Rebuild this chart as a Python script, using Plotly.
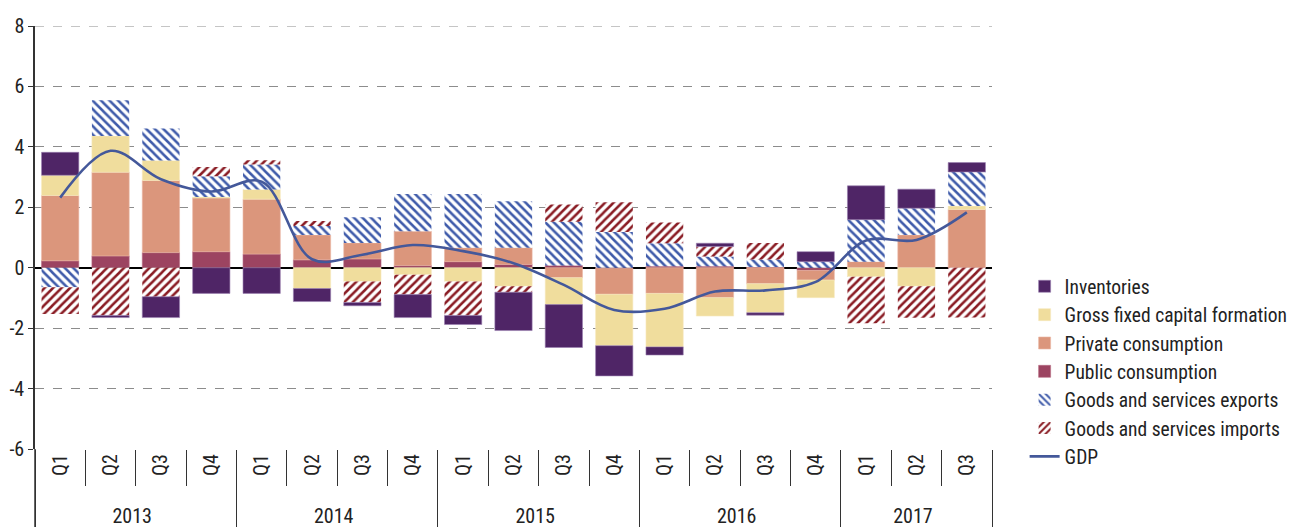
import plotly.graph_objects as go

years = ["2013"] * 4 + ["2014"] * 4 + ["2015"] * 4 + ["2016"] * 4 + ["2017"] * 3
quarters = ["Q1", "Q2", "Q3", "Q4"] * 4 + ["Q1", "Q2", "Q3"]

public_consumption = [0.23, 0.39, 0.50, 0.53, 0.45, 0.26, 0.29, 0.07, 0.20, 0.11, 0.07, -0.03,
                      0.05, 0.05, 0.02, -0.09, 0.0, 0.0, 0.0]
private_consumption = [2.16, 2.77, 2.39, 1.78, 1.82, 0.82, 0.53, 1.14, 0.46, 0.55, -0.33, -0.85,
                       -0.85, -0.99, -0.53, -0.32, 0.20, 1.08, 1.93]
gfcf = [0.67, 1.20, 0.66, 0.03, 0.32, -0.69, -0.46, -0.23, -0.46, -0.61, -0.89, -1.70,
        -1.77, -0.61, -0.96, -0.58, -0.30, -0.61, 0.11]
exports = [-0.65, 1.18, 1.06, 0.69, 0.83, 0.30, 0.85, 1.23, 1.78, 1.54, 1.45, 1.18,
           0.76, 0.32, 0.25, 0.20, 1.39, 0.89, 1.13]
imports = [-0.88, -1.58, -0.96, 0.30, 0.14, 0.17, -0.69, -0.66, -1.12, -0.20, 0.57, 0.99,
           0.69, 0.33, 0.55, 0.0, -1.54, -1.05, -1.65]
inventories = [0.76, -0.07, -0.69, -0.85, -0.85, -0.43, -0.11, -0.76, -0.30, -1.27, -1.42, -1.00,
               -0.27, 0.11, -0.08, 0.33, 1.12, 0.63, 0.31]
gdp = [2.32, 3.87, 2.93, 2.52, 2.85, 0.28, 0.43, 0.75, 0.55, 0.15, -0.57, -1.40,
       -1.36, -0.79, -0.75, -0.47, 0.90, 0.92, 1.83]

y_tickvals = [-6, -4, -2, 0, 2, 4, 6, 8]
y_ticktext = ["-6", "-4", "-2", "0", "2", "4", "6", "8"]

FONT = "Liberation Sans Narrow, Roboto Condensed, Arial Narrow, sans-serif"
# leading no-break spaces only pad the rotated quarter labels so the year row sits lower
quarter_labels = ["\u00a0\u00a0" + q for q in quarters]
x = [years, quarter_labels]

fig = go.Figure()

def solid_bar(name, vals, color, line_color, rank):
    fig.add_trace(go.Bar(
        x=x, y=vals, name=name, legendrank=rank,
        marker=dict(color=color, line=dict(color=line_color, width=0.6)),
    ))

def hatch_bar(name, vals, color, shape, rank):
    fig.add_trace(go.Bar(
        x=x, y=vals, name=name, legendrank=rank,
        marker=dict(color="white", line=dict(width=0),
                    pattern=dict(shape=shape, fgcolor=color, bgcolor="white",
                                 size=6, solidity=0.42, fillmode="replace")),
    ))

solid_bar("Public consumption", public_consumption, "#9C4461", "#B76A82", 4)
solid_bar("Private consumption", private_consumption, "#DB967C", "#EBB7A4", 3)
solid_bar("Gross fixed capital formation", gfcf, "#F0DD9D", "#F6E9BF", 2)
hatch_bar("Goods and services exports", exports, "#3F5BAA", "\\", 5)
hatch_bar("Goods and services imports", imports, "#8A1C24", "/", 6)
solid_bar("Inventories", inventories, "#4F2566", "#9A7FB0", 1)

fig.add_trace(go.Scatter(
    x=x, y=gdp, name="GDP", mode="lines", legendrank=7,
    line=dict(color="#44589A", width=2.6, shape="spline", smoothing=1.0),
))

# page body has an 8px default margin: compensate so the plot area sits at 35..993 x 26..449
fig.update_layout(
    width=1296, height=527,
    margin=dict(l=27, r=311, t=18, b=86),
    paper_bgcolor="white", plot_bgcolor="white",
    barmode="relative", bargap=0.26,
    font=dict(family=FONT, size=20, color="#222222"),
    showlegend=True,
    legend=dict(x=1.033, y=0.43, xanchor="left", yanchor="top",
                font=dict(family=FONT, size=19.5, color="#222222"),
                tracegroupgap=0, itemwidth=30, traceorder="normal",
                bgcolor="rgba(0,0,0,0)"),
)

fig.update_yaxes(
    range=[-6, 8], tickmode="array", tickvals=y_tickvals, ticktext=y_ticktext,
    automargin=False,
    showgrid=True, gridcolor="#8C8C8C", griddash="dash", gridwidth=1,
    zeroline=True, zerolinecolor="#000000", zerolinewidth=1.5,
    showline=True, linecolor="#333333", linewidth=1.5,
    ticks="outside", ticklen=5, tickcolor="#333333",
    tickfont=dict(family=FONT, size=20, color="#222222"),
)

fig.update_xaxes(
    type="multicategory", showgrid=False, showline=False, automargin=False,
    ticks="outside", tickson="boundaries", ticklen=36, tickcolor="#333333", tickwidth=1.3,
    tickangle=-90,
    showdividers=True, dividercolor="#333333", dividerwidth=1.3,
    tickfont=dict(family=FONT, size=20, color="#222222"),
)

fig.add_shape(type="line", xref="paper", yref="paper", x0=0, x1=0, y0=0, y1=-0.21,
              line=dict(color="#333333", width=1.5))
fig.add_shape(type="line", xref="paper", yref="y", x0=0, x1=1, y0=8, y1=8,
              line=dict(color="#8C8C8C", width=1, dash="dash"), layer="below")

fig.write_html("out.html")
